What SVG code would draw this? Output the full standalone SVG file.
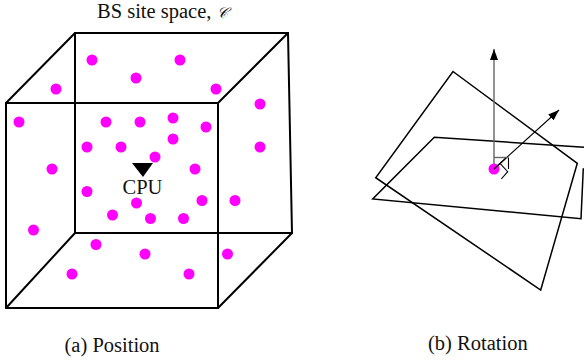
<svg xmlns="http://www.w3.org/2000/svg" width="584" height="363" viewBox="0 0 584 363">
<style>
text{font-family:"Liberation Serif","Times New Roman",serif;font-size:20.5px;fill:#111}
.cube{fill:none;stroke:#000;stroke-width:2;stroke-linejoin:miter}
.plane{fill:none;stroke:#000;stroke-width:1.5}
.dot{fill:#f0f}
.thin{fill:none;stroke:#000;stroke-width:1.1}
.gray{fill:none;stroke:#666;stroke-width:1.4}
</style>
<defs>
<marker id="ah" markerUnits="userSpaceOnUse" markerWidth="12" markerHeight="8" refX="11" refY="4" orient="auto"><path d="M0 0L11 4L0 8Z" fill="#000"/></marker>
</defs>
<rect width="584" height="363" fill="#fff"/>
<g id="cube">
<path class="cube" d="M6 103H218V308H6Z"/>
<path class="cube" d="M75 33H288L292 233H75Z"/>
<path class="cube" d="M6 103L75 33M218 103L288 33M6 308L75 233M218 308L292 233"/>
</g>
<g id="sites">
<g class="dot">
<circle cx="92" cy="60" r="5.5"/><circle cx="180" cy="60" r="5.5"/><circle cx="136" cy="78" r="5.5"/><circle cx="56" cy="89" r="5.5"/><circle cx="216" cy="89" r="5.5"/><circle cx="260" cy="104" r="5.5"/><circle cx="19" cy="122" r="5.5"/><circle cx="106" cy="122" r="5.5"/><circle cx="140" cy="122" r="5.5"/><circle cx="173" cy="118" r="5.5"/><circle cx="206" cy="127" r="5.5"/><circle cx="173" cy="139" r="5.5"/><circle cx="87" cy="147" r="5.5"/><circle cx="121" cy="147" r="5.5"/><circle cx="155" cy="157" r="5.5"/><circle cx="260" cy="147" r="5.5"/><circle cx="52" cy="169" r="5.5"/><circle cx="195" cy="169" r="5.5"/><circle cx="87" cy="191.5" r="5.5"/><circle cx="136.500" cy="203" r="5.5"/><circle cx="112.500" cy="215" r="5.5"/><circle cx="150.500" cy="218.500" r="5.5"/><circle cx="183.500" cy="218.500" r="5.5"/><circle cx="202" cy="200.500" r="5.5"/><circle cx="235" cy="200.500" r="5.5"/><circle cx="33.500" cy="230" r="5.5"/><circle cx="96" cy="244.500" r="5.5"/><circle cx="145" cy="254" r="5.5"/><circle cx="227.500" cy="254" r="5.5"/><circle cx="72" cy="274" r="5.500"/><circle cx="189" cy="274" r="5.5"/>
</g>
</g>
<g id="cpu">
<path d="M132 163H153L143 177Z" fill="#000"/>
<text x="142.500" y="194" text-anchor="middle">CPU</text>
</g>
<g id="planes">
<path class="plane" d="M453 71.500L577.300 163.300L540.700 290L375.700 177.700Z"/>
<path class="plane" d="M584 147.300L434.300 137.300L372.700 199L581 218.700L583.300 168.300"/>
</g>
<g id="connectors">
<line class="gray" x1="494" y1="169" x2="494" y2="49" marker-end="url(#ah)"/>
<line class="thin" x1="494" y1="169" x2="559" y2="110" marker-end="url(#ah)"/>
<path class="gray" d="M494 157.500H508"/>
<path class="thin" d="M508.500 157.500V169M500 163.300L507.700 171.700L501.300 179"/>
</g>
<circle id="origin" class="dot" cx="494" cy="169" r="5.5"/>
<line class="thin" x1="494" y1="169" x2="506" y2="158"/>
<g id="labels">
<text x="97" y="18">BS site space, <tspan font-style="italic" font-family="'DejaVu Sans','Liberation Serif',serif" font-size="15">𝒞</tspan></text>
<text x="64.500" y="352">(a) Position</text>
<text x="428" y="350">(b) Rotation</text>
</g>
</svg>
